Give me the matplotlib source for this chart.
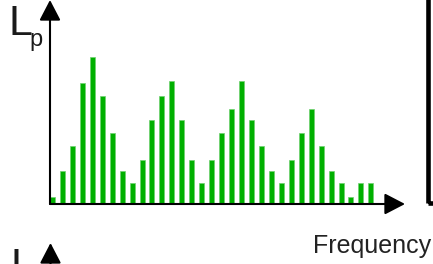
import numpy as np
import matplotlib
matplotlib.use("Agg")
import matplotlib.pyplot as plt
from matplotlib.patches import Rectangle

# sound pressure level per frequency band (arbitrary units)
levels = [7, 33, 58, 121, 147, 108, 71, 33, 21, 44,
          84, 108, 123, 84, 44, 21, 44, 71, 95, 123,
          84, 58, 33, 21, 44, 71, 95, 58, 33, 21,
          7, 21, 21]
bands = np.arange(len(levels))

W, H = 433, 264
def fx(px):
    return px / float(W)
def fy(py):
    return (H - py) / float(H)

plt.rcParams['font.family'] = ['Liberation Sans Narrow', 'Liberation Sans', 'DejaVu Sans']

fig = plt.figure(figsize=(W / 100., H / 100.), dpi=100)

ax = fig.add_axes([fx(50), fy(204), fx(355), 204. / H])
ax.bar(bands, levels, width=0.5, color='#00b000', edgecolor='#70d070', linewidth=0.5)
ax.set_xlim(-0.25, 35.43)
ax.set_ylim(0, 204)
ax.axis('off')

arrow = dict(arrowstyle='-|>,head_length=1.25,head_width=0.65', lw=1.5,
             color='black', mutation_scale=10, shrinkA=0, shrinkB=0)
ax.annotate('', xy=(0, 1), xytext=(0, 0), xycoords='axes fraction',
            arrowprops=arrow, annotation_clip=False)
ax.annotate('', xy=(1, 0), xytext=(0, 0), xycoords='axes fraction',
            arrowprops=arrow, annotation_clip=False)

# axis of the panel below (cut off)
ax.annotate('', xy=(fx(50.5), fy(243)), xytext=(fx(50.5), fy(300)),
            xycoords='figure fraction', arrowprops=arrow, annotation_clip=False)

# border of the panel on the right
fig.add_artist(Rectangle((fx(427.5), fy(202.5)), 0.2, 1.0, transform=fig.transFigure,
                         fill=False, lw=3.3, ec='black'))

fig.text(fx(9), fy(4), "L", fontsize=31, ha='left', va='top', color='#1a1a1a')
fig.text(fx(29), fy(46), "p", fontsize=17, ha='left', va='baseline', color='#1a1a1a')
fig.text(fx(10), fy(247), "L", fontsize=31, ha='left', va='top', color='#1a1a1a')
fig.text(fx(431), fy(253), "Frequency", fontsize=18, ha='right', va='baseline',
         color='#222222', family=['Liberation Sans', 'DejaVu Sans'])

fig.savefig("out.png", dpi=100)
